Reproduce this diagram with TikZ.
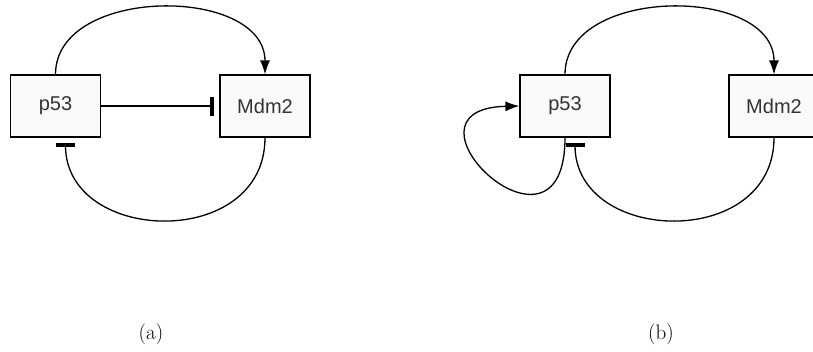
\documentclass[tikz,border=0pt]{standalone}
\usepackage{fontspec}
\usepackage{tikz}
\usetikzlibrary{arrows.meta}
\newfontfamily\genefont{Liberation Sans}
\definecolor{boxfill}{HTML}{FAFAFA}
\definecolor{genetext}{HTML}{333333}

\begin{document}
\begin{tikzpicture}[x=1pt, y=-1pt,
  gene/.style={rectangle, draw, line width=1.2pt, fill=boxfill, minimum width=90pt,
               minimum height=62pt, inner sep=0pt, text=genetext,
               font=\genefont\fontsize{20}{23}\selectfont},
  caption/.style={font=\fontsize{21}{24}\selectfont},
  act/.style={-{Latex[length=14pt,width=10pt]}, line width=1.3pt},
  inh/.style={-{Bar[width=19pt,line width=4pt]}, line width=1.3pt, shorten >=5pt}
]
\useasboundingbox (0,0) rectangle (813,351);

% Panel (a)
\node[gene] (p53a)  at (55.5,106) {p53};
\node[gene] (mdm2a) at (265,106)  {Mdm2};
\node[caption] (capa) at (151,334) {(a)};

\draw[act] (p53a.north) .. controls +(0,-89) and +(0,-89) .. (mdm2a.north);
\draw[inh] (p53a.east) -- (mdm2a.west);
\draw[inh] (mdm2a.south) .. controls +(0,113) and +(0,107) .. ([xshift=10pt]p53a.south);

% Panel (b)
\node[gene] (p53b)  at (565,106) {p53};
\node[gene] (mdm2b) at (774,106) {Mdm2};
\node[caption] (capb) at (661,334) {(b)};

\draw[act] (p53b.north) .. controls +(0,-89) and +(0,-89) .. (mdm2b.north);
\draw[inh] (mdm2b.south) .. controls +(0,113) and +(0,107) .. ([xshift=10pt]p53b.south);
\draw[act] (p53b.south) .. controls +(0,143) and +(-135,3) .. (p53b.west);
\end{tikzpicture}
\end{document}
